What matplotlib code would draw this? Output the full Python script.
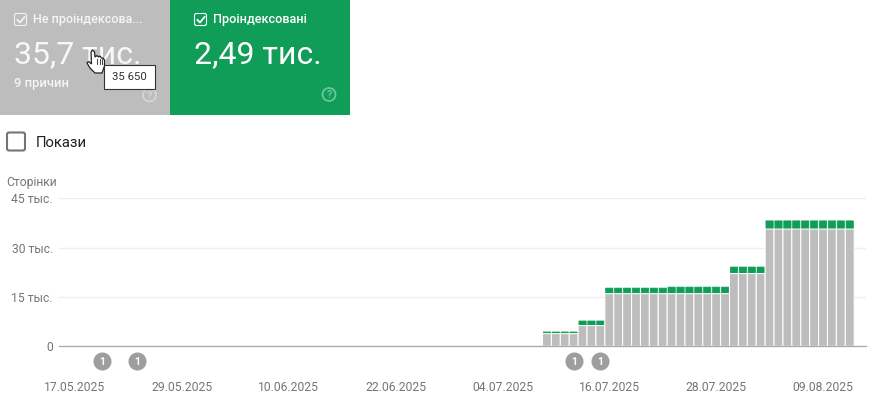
import matplotlib
matplotlib.use("Agg")
import matplotlib.pyplot as plt
from matplotlib.patches import Circle, FancyBboxPatch, Polygon, Rectangle

plt.rcParams['font.family'] = ['Roboto', 'DejaVu Sans']

# дані графіка
tick_pos = [0, 12, 24, 36, 48, 60, 72, 84]
tick_labels = ['17.05.2025', '29.05.2025', '10.06.2025', '22.06.2025',
               '04.07.2025', '16.07.2025', '28.07.2025', '09.08.2025']
y_ticks = [0, 15000, 30000, 45000]
y_labels = ['0', '15 тыс.', '30 тыс.', '45 тыс.']
days = list(range(53, 88))
not_indexed = [3850] * 4 + [6300] * 3 + [16000] * 14 + [22100] * 4 + [35650] * 10
indexed = [500] * 4 + [1400] * 3 + [1700] * 7 + [2000] * 7 + [2000] * 4 + [2490] * 10
event_days = [3, 7, 56, 59]

GREY = '#bdbdbd'
GREEN = '#0f9d58'
TEXT = '#757575'

fig = plt.figure(figsize=(8.83, 4.19), dpi=100)

# графік
W, H = 883, 419
ax = fig.add_axes([59 / W, 1 - 346.3 / H, 807 / W, 148 / H])
ax.set_xlim((59 - 75) / 8.905, (866 - 75) / 8.905)
ax.set_ylim(0, 45000)
for s in ax.spines.values():
    s.set_visible(False)
ax.set_axisbelow(True)
ax.grid(axis='y', color='#eeeeee', linewidth=1)
ax.axhline(0, color='#a8a8a8', linewidth=0.9, zorder=5, clip_on=False)

green = ax.bar(days, indexed, bottom=not_indexed, width=0.82, color=GREEN, edgecolor=GREEN,
               linewidth=0.5, joinstyle='round', zorder=2)
for b in green:
    b.set_snap(False)
grey = ax.bar(days, not_indexed, width=1.0, color=GREY, edgecolor='white', linewidth=0.75, zorder=3)
for b in grey:
    b.set_snap(False)

ax.set_yticks(y_ticks, y_labels, fontsize=8.7, color=TEXT)
ax.set_xticks(tick_pos, tick_labels, fontsize=8.7, color=TEXT)
ax.tick_params(axis='y', length=0, pad=4.5)
ax.tick_params(axis='x', length=0, pad=25)

# позначки подій під віссю
trans = ax.get_xaxis_transform()
for d in event_days:
    ax.plot([d], [-0.1], 'o', ms=13, color='#9e9e9e', mec='none', transform=trans, clip_on=False)
    ax.text(d, -0.1, '1', color='white', fontsize=7.5, fontweight='bold', ha='center',
            va='center_baseline', transform=trans)

# картки зверху
ui = fig.add_axes([0, 0, 1, 1], zorder=10)
ui.set_xlim(0, W)
ui.set_ylim(H, 0)
ui.axis('off')
ui.patch.set_alpha(0)


def checkbox(x, y, size, face, edge, lw, tick=None):
    ui.add_patch(FancyBboxPatch((x, y), size, size, boxstyle='round,pad=0,rounding_size=2',
                                fc=face, ec=edge, lw=lw))
    if tick:
        ui.plot([x + 3, x + 5.5, x + 10], [y + 6.5, y + 9, y + 3.5], color=tick, lw=1.3)


def help_icon(x, y, color):
    ui.add_patch(Circle((x, y), 6.5, fc='none', ec=color, lw=1.3))
    ui.text(x, y, '?', color=color, fontsize=7.5, fontweight='bold', ha='center', va='center_baseline')


ui.add_patch(Rectangle((0, 0), 170, 115, fc=GREY, ec='none'))
ui.add_patch(Rectangle((170, 0), 180, 115, fc=GREEN, ec='none'))

checkbox(14.5, 13.5, 12, 'none', '#f2f2f2', 0.8, tick='#f2f2f2')
checkbox(194.5, 13.5, 12, 'none', 'white', 0.8, tick='white')
ui.text(33, 19, 'Не проіндексова...', color='#f5f5f5', fontsize=9.0, fontweight='medium', va='center')
ui.text(213, 19, 'Проіндексовані', color='white', fontsize=9.1, fontweight='medium', va='center')
ui.text(14, 55, '35,7 тис.', color='#f8f8f8', fontsize=23, va='center')
ui.text(194, 55, '2,49 тис.', color='white', fontsize=23, va='center')
ui.text(14, 83, '9 причин', color='#f5f5f5', fontsize=9.3, fontweight='medium', va='center')
help_icon(149.5, 95, '#d5d5d5')
help_icon(329, 94.5, '#6fc49b')

# підказка і курсор
ui.add_patch(Rectangle((103.5, 65.5), 51, 24, fc='white', ec='#333333', lw=0.8, zorder=6))
ui.text(129, 77.5, '35 650', color='#333333', fontsize=8.2, ha='center', va='center', zorder=7)
hand = [(91, 52), (92.5, 50), (94.5, 52), (95, 57), (97, 55.5), (98.5, 57), (100, 56), (101.5, 58),
        (103, 58), (104.5, 60), (104.5, 66), (102, 73), (95, 73), (90, 68), (87, 63), (88.5, 61.5), (91.5, 64)]
ui.add_patch(Polygon(hand, closed=True, fc='white', ec='#222222', lw=0.9, zorder=5))
for fx in [97, 99.7, 102.3]:
    ui.plot([fx, fx], [59, 64], color='#222222', lw=0.6, zorder=5)

# перемикач «Покази»
checkbox(7, 132.5, 18, 'white', '#757575', 1.5)
ui.text(36, 142.5, 'Покази', color='#212121', fontsize=10.7, va='center')
ui.text(6, 182, 'Сторінки', color=TEXT, fontsize=8.7, va='center')

fig.savefig('out.png', dpi=100)
